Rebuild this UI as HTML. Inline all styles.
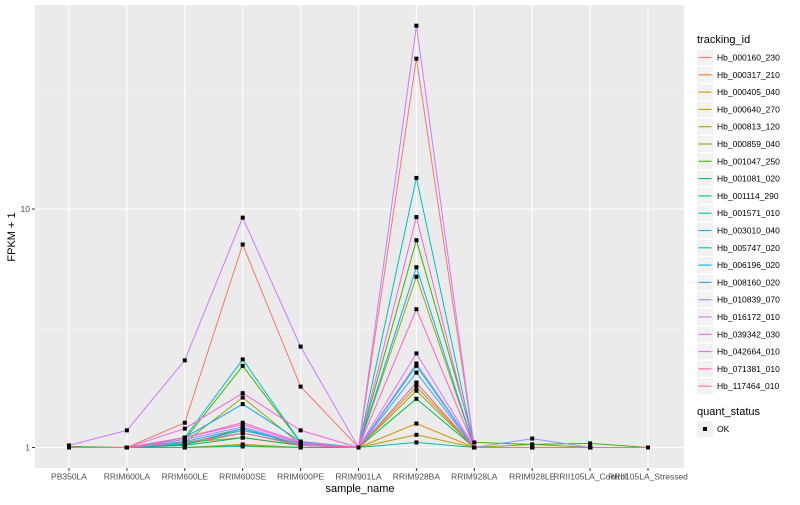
<!DOCTYPE html>
<html><head><meta charset="utf-8"><style>
body{margin:0;background:#fff;font-family:"Liberation Sans",sans-serif}
svg text{font-family:"Liberation Sans",sans-serif}
</style></head><body>
<svg id="chart" width="800" height="500">
<rect x="35" y="5" width="649" height="463" fill="#EBEBEB"/>
<g id="grid"></g><g id="lines"></g><g id="pts"></g><g id="axes"></g><g id="legend"></g>
</svg>
<script>
const categories=["PB350LA","RRIM600LA","RRIM600LE","RRIM600SE","RRIM600PE","RRIM901LA","RRIM928BA","RRIM928LA","RRIM928LE","RRII105LA_Control","RRII105LA_Stressed"];
const seriesNames=["Hb_000160_230","Hb_000317_210","Hb_000405_040","Hb_000640_270","Hb_000813_120","Hb_000859_040","Hb_001047_250","Hb_001081_020","Hb_001114_290","Hb_001571_010","Hb_003010_040","Hb_005747_020","Hb_006196_020","Hb_008160_020","Hb_010839_070","Hb_016172_010","Hb_039342_030","Hb_042664_010","Hb_071381_010","Hb_117464_010"];
const colors=["#F8766D","#EA8331","#D89000","#C09B00","#A3A500","#7CAE00","#39B600","#00BB4E","#00BF7D","#00C1A3","#00BFC4","#00BAE0","#00B0F6","#35A2FF","#9590FF","#C77CFF","#E76BF3","#FA62DB","#FF62BC","#FF6C91"];
const s0=[1,1,1.27,7.1,1.8,1,42.7,1,1,1,1];
const s1=[1,1,1.05,1.1,1.02,1,1.8,1,1,1,1];
const s2=[1,1,1,1.02,1,1,1.26,1,1,1,1];
const s3=[1,1,1,1.03,1,1,1.13,1,1,1,1];
const s4=[1,1,1.05,1.62,1.03,1,5.2,1,1,1,1];
const s5=[1,1,1.03,1.2,1.02,1,1.73,1,1.03,1,1];
const s6=[1.01,1,1.08,2.2,1.05,1,7.4,1.05,1.03,1.04,1];
const s7=[1,1,1.02,1.1,1.02,1,1.6,1,1,1,1];
const s8=[1,1,1.03,1.15,1.03,1,1.87,1,1,1,1];
const s9=[1,1,1,1.01,1,1,1.05,1,1,1,1];
const s10=[1,1,1.1,2.34,1.05,1,13.5,1,1,1,1];
const s11=[1,1,1.04,1.18,1.04,1,2.2,1,1,1,1];
const s12=[1,1,1.1,1.52,1.06,1,5.7,1,1,1,1];
const s13=[1,1,1.06,1.2,1.03,1,2.06,1,1,1,1];
const s14=[1,1,1.08,1.22,1.03,1,2.25,1,1.09,1,1];
const s15=[1.02,1.18,2.32,9.2,2.65,1,58.7,1,1,1,1];
const s16=[1,1,1.1,1.25,1.04,1,2.48,1,1,1,1];
const s17=[1,1,1.2,1.69,1.18,1,9.25,1,1,1,1];
const s18=[1,1,1.1,1.27,1.05,1,3.8,1,1,1,1];
const s19=[1,1,1.05,1.15,1.02,1,1.87,1,1,1,1];
const seriesValues=[s0,s1,s2,s3,s4,s5,s6,s7,s8,s9,s10,s11,s12,s13,s14,s15,s16,s17,s18,s19];
const yTicks=[1,10];
const yTickLabels=["1","10"];

const NS="http://www.w3.org/2000/svg";
function el(tag,attrs,parent,txt){const e=document.createElementNS(NS,tag);for(const k in attrs)e.setAttribute(k,attrs[k]);if(txt!==undefined)e.textContent=txt;parent.appendChild(e);return e;}
const xS=i=>69+i*57.9;
const yS=v=>447.5-238.5*Math.log10(v);
const grid=document.getElementById('grid'),lines=document.getElementById('lines'),pts=document.getElementById('pts'),axes=document.getElementById('axes'),leg=document.getElementById('legend');
[-0.5,0.5,1.5].forEach(l=>{const y=yS(Math.pow(10,l));if(y>5&&y<468){const g=el('line',{x1:35,x2:684,y1:y,y2:y,stroke:'#F5F5F5','stroke-width':0.6},grid);}});
yTicks.forEach((v,i)=>{const y=yS(v);const g=el('line',{x1:35,x2:684,y1:y,y2:y,stroke:'#fff','stroke-width':1.1},grid);
const t=el('line',{x1:32,x2:35,y1:y,y2:y,stroke:'#333','stroke-width':1},axes);
const l=el('text',{x:30,y:y+3,'text-anchor':'end','font-size':8.5,fill:'#4D4D4D'},axes,yTickLabels[i]);});
categories.forEach((c,i)=>{const x=xS(i);const g=el('line',{x1:x,x2:x,y1:5,y2:468,stroke:'#fff','stroke-width':1.1},grid);
const t=el('line',{x1:x,x2:x,y1:468,y2:471,stroke:'#333','stroke-width':1},axes);
const l=el('text',{x:x,y:479.5,'text-anchor':'middle','font-size':8.5,fill:'#4D4D4D'},axes,c);});
seriesValues.forEach((vals,si)=>{const d=vals.map((v,i)=>xS(i).toFixed(1)+','+yS(v).toFixed(1)).join(' ');
const p=el('polyline',{points:d,fill:'none',stroke:colors[si],'stroke-width':1},lines);});
seriesValues.forEach((vals,si)=>{vals.forEach((v,i)=>{const r=el('rect',{x:xS(i)-2,y:yS(v)-2,width:4,height:4,fill:'#000'},pts);});});
const xt=el('text',{x:360,y:492,'text-anchor':'middle','font-size':11,fill:'#000'},axes,'sample_name');
const yt=el('text',{x:15,y:237,'text-anchor':'middle','font-size':11,fill:'#000',transform:'rotate(-90 15 237)'},axes,'FPKM + 1');
const lt=el('text',{x:697,y:43,'font-size':11,fill:'#000'},leg,'tracking_id');
seriesNames.forEach((n,i)=>{const y=49.5+i*17.3;const b=el('rect',{x:697,y:y,width:16,height:16,fill:'#F2F2F2'},leg);
const ln=el('line',{x1:698.5,x2:711.5,y1:y+8,y2:y+8,stroke:colors[i],'stroke-width':1.1},leg);
const t=el('text',{x:717,y:y+11,'font-size':8.5,fill:'#000'},leg,n);});
const qt=el('text',{x:697,y:415,'font-size':11,fill:'#000'},leg,'quant_status');
const qb=el('rect',{x:697,y:421,width:16,height:16,fill:'#F2F2F2'},leg);
const qp=el('rect',{x:703,y:427,width:4,height:4,fill:'#000'},leg);
const qo=el('text',{x:717,y:432,'font-size':8.5,fill:'#000'},leg,'OK');
</script>
</body></html>
